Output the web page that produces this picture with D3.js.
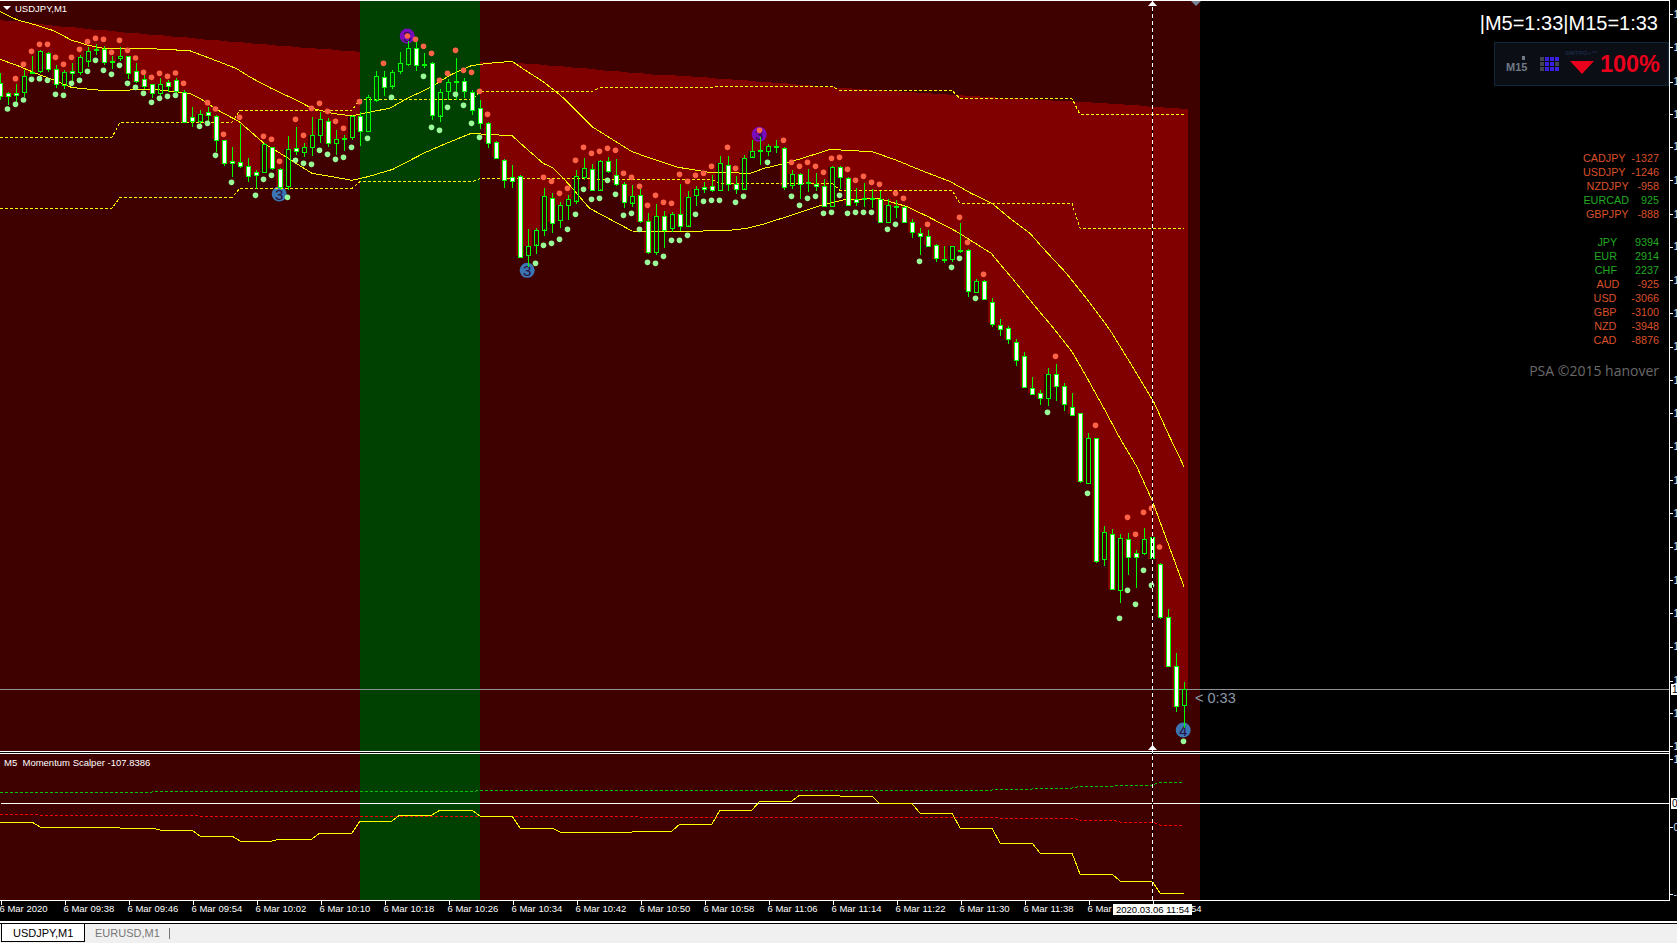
<!DOCTYPE html>
<html>
<head>
<meta charset="utf-8">
<script src="https://d3js.org/d3.v7.min.js"></script>
<style>
  html, body { margin: 0; padding: 0; background: #000; overflow: hidden; }
  svg { display: block; }
  text { font-family: "Liberation Sans", Arial, sans-serif; }
</style>
</head>
<body>
<div id="chart"></div>
<script>
// USDJPY M1 candles, one entry per minute from 09:30
const opens = [
  105.750,105.720,105.720,105.725,105.785,105.785,105.840,105.792,105.744,105.786,
  105.782,105.819,105.852,105.852,105.816,105.824,105.832,105.786,105.762,105.747,
  105.720,105.753,105.759,105.725,105.648,105.635,105.663,105.653,105.579,105.516,
  105.515,105.503,105.483,105.482,105.560,105.492,105.443,105.557,105.542,105.558,
  105.593,105.638,105.570,105.587,105.590,105.653,105.608,105.702,105.770,105.744,
  105.785,105.806,105.857,105.807,105.810,105.654,105.725,105.757,105.756,105.725,
  105.677,105.632,105.575,105.520,105.470,105.473,105.236,105.267,105.312,105.407,
  105.339,105.383,105.399,105.470,105.494,105.432,105.516,105.476,105.449,105.393,
  105.414,105.336,105.245,105.353,105.315,105.359,105.324,105.413,105.440,105.443,
  105.429,105.504,105.447,105.435,105.531,105.550,105.546,105.561,105.557,105.443,
  105.479,105.453,105.449,105.443,105.383,105.500,105.467,105.404,105.407,105.407,
  105.404,105.332,105.382,105.379,105.333,105.302,105.293,105.264,105.224,105.221,
  105.250,105.251,105.122,105.156,105.095,105.026,105.015,104.975,104.933,104.837,
  104.822,104.807,104.877,104.841,104.780,104.760,104.550,104.685,104.322,104.397,
  104.229,104.382,104.340,104.339,104.388,104.308,104.148,104.001,103.883];
const highs = [
  105.780,105.725,105.748,105.790,105.832,105.850,105.845,105.805,105.790,105.810,
  105.835,105.860,105.868,105.863,105.832,105.860,105.832,105.810,105.775,105.748,
  105.765,105.760,105.765,105.730,105.678,105.670,105.678,105.655,105.579,105.558,
  105.628,105.525,105.490,105.570,105.560,105.495,105.592,105.618,105.570,105.650,
  105.665,105.645,105.610,105.595,105.655,105.665,105.715,105.788,105.788,105.790,
  105.845,105.878,105.875,105.840,105.815,105.732,105.762,105.825,105.765,105.730,
  105.700,105.635,105.578,105.522,105.505,105.475,105.312,105.315,105.435,105.422,
  105.395,105.415,105.490,105.525,105.507,105.520,105.530,105.522,105.455,105.445,
  105.435,105.360,105.388,105.367,105.365,105.448,105.427,105.442,105.455,105.475,
  105.532,105.532,105.472,105.535,105.580,105.590,105.568,105.580,105.558,105.490,
  105.480,105.492,105.480,105.463,105.502,105.502,105.470,105.435,105.450,105.432,
  105.428,105.402,105.400,105.382,105.342,105.315,105.310,105.267,105.262,105.263,
  105.330,105.253,105.162,105.160,105.105,105.043,105.022,104.982,104.943,104.868,
  104.830,104.895,104.908,104.850,104.822,104.762,104.702,104.685,104.422,104.413,
  104.398,104.400,104.350,104.415,104.425,104.310,104.172,104.040,103.953];
const lows = [
  105.700,105.685,105.685,105.710,105.780,105.780,105.785,105.735,105.732,105.745,
  105.775,105.800,105.835,105.805,105.793,105.818,105.763,105.750,105.732,105.705,
  105.705,105.725,105.722,105.633,105.620,105.620,105.635,105.545,105.503,105.470,
  105.495,105.455,105.433,105.480,105.490,105.430,105.430,105.535,105.530,105.532,
  105.570,105.560,105.535,105.548,105.580,105.563,105.608,105.695,105.712,105.732,
  105.778,105.803,105.788,105.795,105.640,105.635,105.700,105.700,105.705,105.655,
  105.613,105.557,105.525,105.437,105.437,105.229,105.200,105.238,105.293,105.302,
  105.315,105.340,105.388,105.460,105.428,105.430,105.482,105.442,105.377,105.380,
  105.330,105.237,105.235,105.257,105.305,105.308,105.320,105.382,105.422,105.425,
  105.427,105.428,105.417,105.433,105.528,105.505,105.533,105.540,105.430,105.432,
  105.403,105.425,105.427,105.380,105.380,105.433,105.384,105.382,105.380,105.375,
  105.334,105.330,105.346,105.332,105.286,105.235,105.260,105.215,105.210,105.215,
  105.240,105.110,105.120,105.099,105.020,104.992,104.968,104.902,104.838,104.818,
  104.785,104.782,104.798,104.767,104.755,104.550,104.548,104.310,104.303,104.230,
  104.192,104.275,104.237,104.335,104.293,104.143,103.998,103.865,103.815];
const closes = [
  105.710,105.710,105.715,105.773,105.782,105.846,105.792,105.747,105.783,105.780,
  105.828,105.848,105.849,105.813,105.813,105.831,105.782,105.755,105.740,105.720,
  105.747,105.740,105.726,105.635,105.635,105.657,105.653,105.582,105.509,105.510,
  105.504,105.474,105.474,105.567,105.497,105.439,105.554,105.548,105.558,105.594,
  105.642,105.572,105.582,105.583,105.653,105.609,105.710,105.773,105.740,105.785,
  105.810,105.855,105.807,105.803,105.655,105.725,105.753,105.754,105.726,105.672,
  105.633,105.573,105.528,105.460,105.459,105.231,105.263,105.311,105.413,105.333,
  105.384,105.402,105.473,105.497,105.432,105.518,105.486,105.450,105.396,105.413,
  105.335,105.242,105.353,105.310,105.357,105.323,105.410,105.432,105.435,105.432,
  105.510,105.447,105.432,105.527,105.548,105.547,105.561,105.559,105.441,105.477,
  105.450,105.449,105.443,105.384,105.500,105.470,105.387,105.396,105.404,105.404,
  105.336,105.384,105.380,105.335,105.303,105.294,105.264,105.224,105.220,105.261,
  105.248,105.129,105.156,105.102,105.030,105.015,104.982,104.922,104.840,104.820,
  104.807,104.878,104.840,104.787,104.757,104.555,104.685,104.315,104.403,104.232,
  104.385,104.328,104.328,104.382,104.324,104.150,104.000,103.880,103.932];

// top of the red histogram, one per bar (it runs down to the close)
const redTop = [
  105.940,105.938,105.936,105.933,105.930,105.928,105.925,105.923,105.920,105.918,
  105.916,105.913,105.911,105.909,105.907,105.904,105.902,105.900,105.898,105.896,
  105.894,105.892,105.890,105.888,105.885,105.883,105.881,105.879,105.877,105.875,
  105.873,105.871,105.869,105.867,105.865,105.863,105.861,105.859,105.857,105.855,
  105.853,105.852,105.850,105.848,105.847,105.845,105.843,105.841,105.839,105.837,
  105.835,105.833,105.831,105.829,105.827,105.825,105.824,105.822,105.820,105.817,
  105.815,105.814,105.813,105.812,105.811,105.810,105.809,105.807,105.805,105.803,
  105.801,105.799,105.797,105.795,105.793,105.790,105.788,105.786,105.784,105.782,
  105.780,105.778,105.776,105.775,105.774,105.772,105.771,105.769,105.768,105.766,
  105.764,105.763,105.761,105.759,105.757,105.755,105.753,105.751,105.750,105.748,
  105.746,105.744,105.742,105.740,105.738,105.736,105.735,105.733,105.732,105.730,
  105.729,105.727,105.726,105.724,105.723,105.721,105.720,105.718,105.717,105.715,
  105.714,105.713,105.711,105.710,105.709,105.707,105.706,105.705,105.703,105.702,
  105.701,105.700,105.698,105.697,105.696,105.694,105.693,105.691,105.690,105.688,
  105.687,105.685,105.684,105.682,105.680,105.679,105.677,105.675,105.673];

// solid bands, read as (bar, price) pairs off the curve
const upperBandBars = [0,2.2,4.5,6.7,8.9,10.9,13.4,17.9,23.7,26.8,29.5,31.3,33.9,37,39,41.5,44,46,48.7,50.9,53.6,56.3,58.9,61,64,65.6,67.9,70,70.7,74,79,81.7,84.8,88.6,91,93.8,95.5,98.2,100.9,103.8,106.5,109,112,115,118.8,121.4,124,125,126.25,128.75,130.4,133.3,135.8,138.75,140.8,144.2,146,148];
const upperBandPrices = [105.965,105.940,105.925,105.908,105.880,105.865,105.853,105.855,105.848,105.820,105.795,105.768,105.735,105.700,105.675,105.660,105.652,105.663,105.675,105.705,105.735,105.775,105.803,105.810,105.816,105.790,105.755,105.715,105.700,105.620,105.545,105.522,105.498,105.483,105.482,105.480,105.495,105.510,105.530,105.552,105.548,105.545,105.520,105.490,105.455,105.420,105.390,105.370,105.345,105.300,105.255,105.180,105.105,105.010,104.930,104.795,104.700,104.600];
const lowerBandBars = [0,2.2,4.5,6.7,8.9,11.2,13.8,17.9,20,23.7,25,27.2,29.9,33,35.7,37,39,41.5,44,46,49.1,53.1,55.8,58.9,60.7,64,66,67.9,69.2,71,73.7,79,85.5,91.5,93.3,95.5,99,102.7,105.4,109.8,113.4,116,119.6,123.9,125,126.7,129.6,131.7,134,135.8,138.1,140,142.1,144,146,148];
const lowerBandPrices = [105.822,105.803,105.780,105.760,105.738,105.732,105.727,105.732,105.730,105.720,105.705,105.670,105.635,105.570,105.530,105.510,105.480,105.470,105.459,105.470,105.492,105.542,105.570,105.600,105.597,105.593,105.550,105.510,105.495,105.450,105.375,105.307,105.305,105.310,105.315,105.328,105.355,105.385,105.400,105.405,105.380,105.350,105.305,105.240,105.208,105.160,105.075,105.015,104.945,104.870,104.770,104.685,104.600,104.500,104.370,104.240];

// M15 dashed levels, one per 15 bars
const dashUpper = [105.588,105.633,105.669,105.702,105.726,105.738,105.741,105.729,105.704,105.657];
const dashLower = [105.375,105.408,105.435,105.455,105.464,105.462,105.450,105.429,105.390,105.315];

// dots, (bar, price) pairs
const redDotBars = [2,3,4,5,6,7,8,9,10,11,12,13,14,15,16,17,18,19,20,21,22,23,26,27,28,30,33,34,35,37,38,39,40,41,42,43,45,48,51,52,53,54,55,56,57,58,59,60,61,68,69,70,71,72,73,74,75,76,77,78,79,80,81,82,83,84,85,86,87,88,89,91,92,95,98,99,100,101,102,103,104,105,106,107,108,109,110,112,113,116,120,121,123,132,137,141,142,143,144,145];
const redDotPrices = [105.764,105.807,105.846,105.867,105.867,105.828,105.807,105.828,105.852,105.875,105.885,105.882,105.843,105.879,105.849,105.826,105.783,105.768,105.780,105.771,105.781,105.750,105.692,105.673,105.597,105.648,105.591,105.582,105.516,105.642,105.594,105.675,105.690,105.666,105.636,105.615,105.695,105.810,105.892,105.882,105.861,105.840,105.759,105.780,105.849,105.789,105.783,105.726,105.657,105.468,105.456,105.420,105.435,105.519,105.558,105.540,105.546,105.555,105.549,105.480,105.468,105.441,105.384,105.414,105.393,105.390,105.477,105.456,105.474,105.480,105.501,105.558,105.495,105.609,105.579,105.513,105.501,105.513,105.501,105.483,105.525,105.528,105.492,105.459,105.471,105.453,105.447,105.420,105.405,105.327,105.348,105.273,105.177,104.931,104.724,104.448,104.397,104.463,104.475,104.359];
const greenDotBars = [1,2,3,4,5,6,7,8,9,10,11,12,13,14,15,16,17,18,19,20,21,22,25,26,27,29,32,33,34,36,37,38,39,40,41,42,43,44,46,49,53,54,55,56,57,58,59,60,67,68,69,70,71,72,73,74,75,76,77,78,79,80,81,82,83,84,85,86,87,88,89,90,92,93,96,99,100,101,102,103,104,105,106,107,108,109,111,112,115,119,120,122,131,136,140,141,142,143,144,148];
const greenDotPrices = [105.673,105.687,105.700,105.762,105.764,105.759,105.717,105.714,105.750,105.759,105.786,105.819,105.789,105.777,105.804,105.750,105.738,105.720,105.693,105.705,105.711,105.714,105.621,105.630,105.534,105.453,105.414,105.462,105.474,105.408,105.519,105.510,105.507,105.549,105.537,105.522,105.528,105.558,105.585,105.708,105.771,105.618,105.609,105.678,105.717,105.684,105.630,105.588,105.210,105.264,105.270,105.282,105.312,105.357,105.432,105.402,105.405,105.459,105.417,105.354,105.360,105.312,105.213,105.210,105.231,105.279,105.279,105.294,105.357,105.396,105.399,105.399,105.393,105.411,105.513,105.411,105.384,105.405,105.411,105.360,105.363,105.414,105.360,105.363,105.363,105.363,105.312,105.327,105.216,105.198,105.225,105.105,104.763,104.520,104.145,104.229,104.187,104.289,104.244,103.776];

// numbered badges
const badgeBars = [50.9,34.9,65.9,94.9,147.9];
const badgePrices = [105.892,105.418,105.189,105.597,103.810];
const badgeLabels = ["3","3","3","3","4"];
const badgeKinds = ["top","bottom","bottom","top","bottom"];

// Momentum Scalper, one value per 5 bars
const momentum = [-22.8,-28.8,-28.8,-30,-32.4,-39.6,-45.6,-43.2,-36,-21.6,-14.4,-8.4,-15.6,-30,-34.8,-34.8,-33.6,-25.2,-8.4,2.4,9.6,8.4,-0.8,-12,-30,-48,-60,-85.2,-93.6,-108];
const momentumUpper = [13.2,13.2,13.2,13.2,14,14,14,14,14,14,14,14,14.8,14.8,14.8,15.6,15.6,15.6,15.6,15.6,15.6,15.6,15.6,15.6,15.6,16.8,18,20,21.6,24.8];
const momentumLower = [-13.2,-14.4,-14.4,-14.4,-14.4,-16,-16,-16,-16,-16,-16,-16,-16,-16,-16,-16,-16.8,-16.8,-16.8,-16.8,-16.8,-16.8,-16.8,-16.8,-16.8,-18,-18,-20.4,-22.8,-26.4];

// axes
const timeTickBars = [0,8,16,24,32,40,48,56,64,72,80,88,96,104,112,120,128,136,144];
const timeTickLabels = ["6 Mar 2020","6 Mar 09:38","6 Mar 09:46","6 Mar 09:54","6 Mar 10:02","6 Mar 10:10","6 Mar 10:18","6 Mar 10:26","6 Mar 10:34","6 Mar 10:42","6 Mar 10:50","6 Mar 10:58","6 Mar 11:06","6 Mar 11:14","6 Mar 11:22","6 Mar 11:30","6 Mar 11:38","6 Mar 11:46","6 Mar 11:54"];
const priceTicks = [105.958,105.858,105.755,105.657,105.560,105.460,105.358,105.260,105.160,105.060,104.960,104.860,104.760,104.660,104.560,104.460,104.360,104.260,104.160,104.060,103.958,103.860,103.762];
const lastPrice = 103.933;
const momentumTicks = [52.8,-28.8,-109.2];
const momentumTickLabels = ["1","0","-"];

// right hand strength table
const pairNames = ["CADJPY","USDJPY","NZDJPY","EURCAD","GBPJPY"];
const pairValues = [-1327,-1246,-958,925,-888];
const pairGaps = [2,2,3,4,3];
const ccyNames = ["JPY","EUR","CHF","AUD","USD","GBP","NZD","CAD"];
const ccyValues = [9394,2914,2237,-925,-3066,-3100,-3948,-8876];
const ccyGaps = [6,6,6,6,5,5,5,5];

const width = 1677, height = 943;
const mainH = 751, subTop = 754, subBottom = 900, axisRight = 1669;
const bgRed = "#3f0000", histRed = "#800000", bandGreen = "#004000";
const yellow = "#ffff00", candleGreen = "#00ff00";

const svg = d3.select("#chart").append("svg")
  .attr("width", width)
  .attr("height", height);

const xScale = d3.scaleLinear().domain([0, 1]).range([0, 8]);
const yScale = d3.scaleLinear().domain([106, 103.75]).range([0, 750]);
const ySub = d3.scaleLinear().domain([0, -108]).range([803, 893]);

const bars = d3.range(opens.length);

// repeats a stepped indicator over its bars, flat then a diagonal to the next step
const stepPoints = (values, span) => {
  const pts = [];
  values.forEach((v, k) => {
    pts.push([k * span, v]);
    pts.push([Math.min(k * span + span - 1, bars.length - 1), v]);
  });
  return pts;
};

svg.append("rect").attr("width", width).attr("height", height).attr("fill", "#000");

// panel backgrounds, the window is 1200 wide with the chart shift
svg.append("rect").attr("x", 0).attr("y", 1).attr("width", 1200).attr("height", mainH - 1).attr("fill", bgRed);
svg.append("rect").attr("x", 0).attr("y", subTop).attr("width", 1200).attr("height", subBottom - subTop).attr("fill", bgRed);

const clip = svg.append("defs").append("clipPath").attr("id", "mainClip");
clip.append("rect").attr("x", 0).attr("y", 1).attr("width", axisRight).attr("height", mainH - 1);

const main = svg.append("g").attr("clip-path", "url(#mainClip)");

// red histogram
main.append("g").attr("shape-rendering", "crispEdges")
  .selectAll("rect").data(bars).enter().append("rect")
  .attr("x", d => xScale(d) - 4)
  .attr("width", 8)
  .attr("y", d => yScale(redTop[d]))
  .attr("height", d => Math.max(0, yScale(closes[d]) - yScale(redTop[d])))
  .attr("fill", histRed);

// green session block over everything behind the candles
main.append("rect").attr("x", xScale(45)).attr("y", 1)
  .attr("width", xScale(60) - xScale(45)).attr("height", mainH - 1).attr("fill", bandGreen);
svg.append("rect").attr("x", xScale(45)).attr("y", subTop)
  .attr("width", xScale(60) - xScale(45)).attr("height", subBottom - subTop).attr("fill", bandGreen);

// badges sit under the candles
const badges = main.append("g");
badgeBars.forEach((b, i) => {
  badges.append("circle")
    .attr("cx", xScale(b)).attr("cy", yScale(badgePrices[i])).attr("r", 7.5)
    .attr("fill", badgeKinds[i] === "top" ? "#7a0cbe" : "#3b75b3");
  badges.append("text")
    .attr("x", xScale(b)).attr("y", yScale(badgePrices[i]) + 5.5)
    .attr("text-anchor", "middle").attr("font-size", 15).attr("fill", "#2a1040")
    .text(badgeLabels[i]);
});

const lineOf = (xf, yf) => d3.line().x(xf).y(yf);
const bandLine = lineOf(d => xScale(d[0]), d => yScale(d[1]));
const zip = (a, b) => a.map((v, i) => [v, b[i]]);

[zip(upperBandBars, upperBandPrices), zip(lowerBandBars, lowerBandPrices)].forEach(pts => {
  main.append("path").attr("d", bandLine(pts)).attr("fill", "none")
    .attr("stroke", yellow).attr("stroke-width", 1).attr("shape-rendering", "crispEdges");
});
[dashUpper, dashLower].forEach(vals => {
  main.append("path").attr("d", bandLine(stepPoints(vals, 15))).attr("fill", "none")
    .attr("stroke", yellow).attr("stroke-width", 1).attr("stroke-dasharray", "3,2")
    .attr("shape-rendering", "crispEdges");
});

// current price line
main.append("line").attr("x1", 0).attr("x2", axisRight)
  .attr("y1", Math.round(yScale(lastPrice)) + 0.5).attr("y2", Math.round(yScale(lastPrice)) + 0.5)
  .attr("stroke", "#8c9194");

// candles, bear bodies are white and bull bodies hollow
const candles = main.append("g").attr("shape-rendering", "crispEdges");
bars.forEach(i => {
  const cx = xScale(i) + 0.5;
  const top = yScale(Math.max(opens[i], closes[i]));
  const bot = yScale(Math.min(opens[i], closes[i]));
  candles.append("line").attr("x1", cx).attr("x2", cx)
    .attr("y1", yScale(highs[i])).attr("y2", top).attr("stroke", candleGreen);
  candles.append("line").attr("x1", cx).attr("x2", cx)
    .attr("y1", bot).attr("y2", yScale(lows[i])).attr("stroke", candleGreen);
  candles.append("rect")
    .attr("x", xScale(i) - 1.5)
    .attr("width", 4)
    .attr("y", Math.round(top) + 0.5)
    .attr("height", Math.max(1, Math.round(bot - top)))
    .attr("fill", closes[i] < opens[i] ? "#fff" : "none")
    .attr("stroke", candleGreen);
});

// dots
const dots = main.append("g");
zip(redDotBars, redDotPrices).forEach(d => {
  dots.append("circle").attr("cx", xScale(d[0]) - 0.5).attr("cy", yScale(d[1])).attr("r", 2.8).attr("fill", "#ff6347");
});
zip(greenDotBars, greenDotPrices).forEach(d => {
  dots.append("circle").attr("cx", xScale(d[0]) - 0.5).attr("cy", yScale(d[1])).attr("r", 2.8).attr("fill", "#98fb98");
});

// sub window
const subLine = lineOf(d => xScale(d[0]), d => ySub(d[1]));
svg.append("line").attr("x1", 1).attr("x2", axisRight).attr("y1", 803.5).attr("y2", 803.5).attr("stroke", "#fff");
[[momentumUpper, "#00c000", true], [momentumLower, "#ff0000", true], [momentum, yellow, false]].forEach(s => {
  svg.append("path").attr("d", subLine(stepPoints(s[0], 5))).attr("fill", "none")
    .attr("stroke", s[1]).attr("stroke-dasharray", s[2] ? "3,2" : null)
    .attr("shape-rendering", "crispEdges");
});

// frames
const white = (x1, y1, x2, y2) => svg.append("line")
  .attr("x1", x1).attr("y1", y1).attr("x2", x2).attr("y2", y2)
  .attr("stroke", "#fff").attr("shape-rendering", "crispEdges");
white(0, 0.5, axisRight + 1, 0.5);
white(0, 751.5, axisRight + 1, 751.5);
white(0, 753.5, axisRight + 1, 753.5);
white(0, 900.5, axisRight + 1, 900.5);
white(axisRight + 0.5, 0, axisRight + 0.5, 901);

// crosshair
svg.append("line").attr("x1", 1152.5).attr("x2", 1152.5).attr("y1", 0).attr("y2", 900)
  .attr("stroke", "#000").attr("shape-rendering", "crispEdges");
svg.append("line").attr("x1", 1152.5).attr("x2", 1152.5).attr("y1", 0).attr("y2", 900)
  .attr("stroke", "#fff").attr("stroke-dasharray", "4,3").attr("shape-rendering", "crispEdges");
svg.append("path").attr("d", "M1152.5,1L1157,6L1148,6Z").attr("fill", "#fff");
svg.append("path").attr("d", "M1152.5,745L1157,750L1148,750Z").attr("fill", "#fff");
svg.append("path").attr("d", "M1191,1L1201,1L1196,6Z").attr("fill", "#778899");

// price axis, the labels run off the right edge of the window
const priceAxis = d3.axisRight(yScale).tickValues(priceTicks).tickSize(3).tickPadding(1).tickFormat(d3.format(".3f"));
const pa = svg.append("g").attr("transform", `translate(${axisRight + 0.5},0)`).call(priceAxis);
const subAxis = d3.axisRight(ySub).tickValues(momentumTicks).tickSize(3).tickPadding(1).tickFormat((d, i) => momentumTickLabels[i]);
const sa = svg.append("g").attr("transform", `translate(${axisRight + 0.5},0)`).call(subAxis);
[pa, sa].forEach(a => {
  a.select(".domain").remove();
  a.selectAll("line").attr("stroke", "#fff").attr("shape-rendering", "crispEdges");
  a.selectAll("text").attr("fill", "#cfe2ff").attr("font-size", 10).style("font-family", "Liberation Sans");
});

// boxes on the axis
const boxTag = (y, label) => {
  svg.append("rect").attr("x", 1671).attr("y", y - 5.5).attr("width", 6).attr("height", 11).attr("fill", "#fff");
  svg.append("text").attr("x", 1672).attr("y", y + 3.5).attr("font-size", 10).attr("fill", "#000").text(label);
};
boxTag(yScale(lastPrice) + 0.5, "1");
boxTag(803.5, "0");

// time axis
const timeAxis = d3.axisBottom(xScale).tickValues(timeTickBars).tickSize(4).tickPadding(2).tickFormat((d, i) => timeTickLabels[i]);
const ta = svg.append("g").attr("transform", "translate(0.5,900.5)").call(timeAxis);
ta.select(".domain").remove();
ta.selectAll("line").attr("stroke", "#fff").attr("shape-rendering", "crispEdges");
ta.selectAll("text").attr("fill", "#fff").attr("text-anchor", "start").attr("x", -1.5).attr("y", 5)
  .attr("font-size", 9.5).style("font-family", "Liberation Sans");

// crosshair time label
svg.append("rect").attr("x", 1113).attr("y", 904).attr("width", 79).attr("height", 11).attr("fill", "#fff");
svg.append("text").attr("x", 1116).attr("y", 913).attr("font-size", 9.5).attr("fill", "#000").text("2020.03.06 11:54");

// chart labels
svg.append("path").attr("d", "M3,6L11,6L7,10Z").attr("fill", "#fff");
svg.append("text").attr("x", 15).attr("y", 12).attr("font-size", 9.5).attr("fill", "#fff").text("USDJPY,M1");
svg.append("text").attr("x", 4).attr("y", 766).attr("font-size", 9.5).attr("fill", "#fff")
  .style("white-space", "pre").text("M5  Momentum Scalper -107.8386");
svg.append("text").attr("x", 1195).attr("y", 703).attr("font-size", 14.5).attr("fill", "#8c9aa8").text("< 0:33");

// top right
svg.append("text").attr("x", 1658).attr("y", 30).attr("text-anchor", "end").attr("font-size", 20).attr("fill", "#fff").text("|M5=1:33|M15=1:33");
svg.append("rect").attr("x", 1494.5).attr("y", 42.5).attr("width", 174).attr("height", 43).attr("fill", "#0b0e14").attr("stroke", "#12263a");
svg.append("text").attr("x", 1506).attr("y", 71).attr("font-size", 11).attr("font-weight", "bold").attr("fill", "#6f7a88").text("M15");
svg.append("rect").attr("x", 1522).attr("y", 56).attr("width", 3).attr("height", 4).attr("fill", "#6f7a88");
const gridCols = [0,1,2,3];
const gridRows = [0,1,2];
const gridBlue = ["0,1","0,2","0,3","1,1","1,2","2,1","2,2","2,3"];
gridRows.forEach(r => gridCols.forEach(c => {
  svg.append("rect").attr("x", 1540 + c * 5).attr("y", 57 + r * 5).attr("width", 4).attr("height", 4)
    .attr("fill", gridBlue.includes(`${r},${c}`) ? "#3a1fe0" : "#44464f");
}));
svg.append("text").attr("x", 1565).attr("y", 55).attr("font-size", 6).attr("font-weight", "bold").attr("fill", "#1a2a44").text("SNITRO+™");
svg.append("path").attr("d", "M1570,61L1594,61L1582,74Z").attr("fill", "#e8001c");
svg.append("text").attr("x", 1660).attr("y", 72).attr("text-anchor", "end").attr("font-size", 23.5).attr("font-weight", "bold").attr("fill", "#e8001c").text("100%");

// strength table
const tableRow = (name, value, gap, y) => {
  svg.append("text").attr("x", 1659).attr("y", y + 4).attr("text-anchor", "end").attr("font-size", 10.8)
    .attr("fill", value < 0 ? "#d9502a" : "#22aa22").style("white-space", "pre")
    .text(name + " ".repeat(gap) + value);
};
pairNames.forEach((n, i) => tableRow(n, pairValues[i], pairGaps[i], 158 + i * 14));
ccyNames.forEach((n, i) => tableRow(n, ccyValues[i], ccyGaps[i], 242 + i * 14));
svg.append("text").attr("x", 1659).attr("y", 376).attr("text-anchor", "end").attr("font-size", 14)
  .style("font-family", "Open Sans").attr("fill", "#6a6a6a").text("PSA ©2015 hanover");

// tab strip
white(0, 921.5, width, 921.5);
white(0, 922.5, width, 922.5);
svg.append("rect").attr("x", 0).attr("y", 924).attr("width", width).attr("height", 19).attr("fill", "#f0f0f0");
svg.append("rect").attr("x", 1.5).attr("y", 923.5).attr("width", 83).attr("height", 18).attr("fill", "#fff").attr("stroke", "#000");
svg.append("text").attr("x", 13).attr("y", 937).attr("font-size", 11).attr("fill", "#000").text("USDJPY,M1");
svg.append("text").attr("x", 95).attr("y", 937).attr("font-size", 11).attr("fill", "#777").text("EURUSD,M1");
svg.append("line").attr("x1", 169.5).attr("x2", 169.5).attr("y1", 928).attr("y2", 939).attr("stroke", "#777");
</script>
</body>
</html>
